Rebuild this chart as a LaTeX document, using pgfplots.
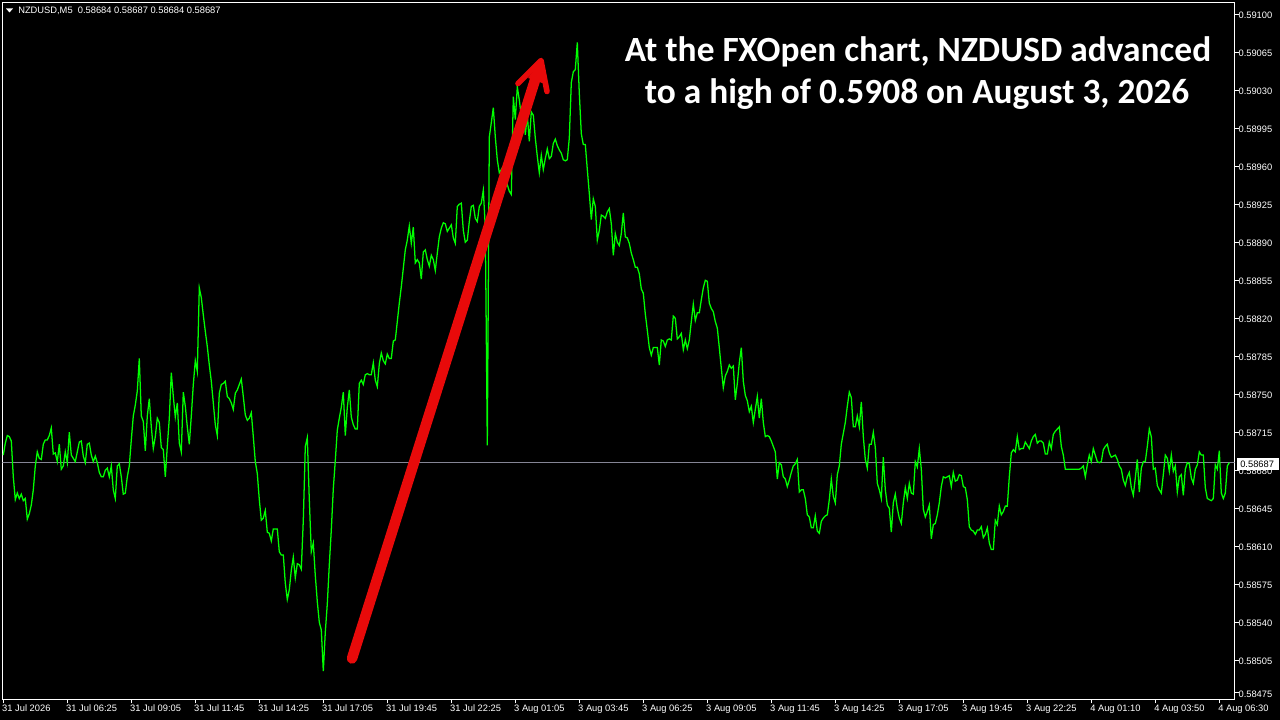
\documentclass[border=0pt]{standalone}
\usepackage{pgfplots}
\pgfplotsset{compat=1.18}
\usepackage{fontspec}
\setmainfont{Liberation Sans}
\newfontfamily\carlito{Carlito}
\definecolor{arrowred}{HTML}{E80A0A}
\definecolor{bidgray}{HTML}{858595}
\begin{document}
\begin{tikzpicture}[x=0.75pt,y=0.75pt]
\path[use as bounding box] (0,0) rectangle (1280,720);
\fill[black] (0,0) rectangle (1280,720);
\begin{axis}[
  at={(1.725pt,15.525pt)}, anchor=south west,
  scale only axis, width=924.3pt, height=522.75pt,
  xmin=-0.5, xmax=615.7, ymin=0.584691, ymax=0.59111,
  axis line style={white, line width=0.9pt},
  clip=true,
  tick align=outside, xtick pos=bottom, ytick pos=right,
  major tick style={white, line width=0.75pt},
  major tick length=3pt,
  xtick={0,32,64,96,128,160,192,224,256,288,320,352,384,416,448,480,512,544,576,608},
  xticklabels={31 Jul 2026,31 Jul 06:25,31 Jul 09:05,31 Jul 11:45,31 Jul 14:25,31 Jul 17:05,31 Jul 19:45,31 Jul 22:25,3 Aug 01:05,3 Aug 03:45,3 Aug 06:25,3 Aug 09:05,3 Aug 11:45,3 Aug 14:25,3 Aug 17:05,3 Aug 19:45,3 Aug 22:25,4 Aug 01:10,4 Aug 03:50,4 Aug 06:30},
  ytick={0.59100,0.59065,0.59030,0.58995,0.58960,0.58925,0.58890,0.58855,0.58820,0.58785,0.58750,0.58715,0.58680,0.58645,0.58610,0.58575,0.58540,0.58505,0.58475},
  yticklabels={0.59100,0.59065,0.59030,0.58995,0.58960,0.58925,0.58890,0.58855,0.58820,0.58785,0.58750,0.58715,0.58680,0.58645,0.58610,0.58575,0.58540,0.58505,0.58475},
  xticklabel style={anchor=north west, xshift=-1pt, yshift=0.4pt, text=white, font=\fontsize{7pt}{8pt}\selectfont, inner xsep=0pt, inner ysep=1.5pt},
  yticklabel style={anchor=west, xshift=-0.3pt, yshift=-0.7pt, text=white, font=\fontsize{7pt}{8pt}\selectfont, inner xsep=0pt},
  scaled y ticks=false,
]
\addplot[bidgray, line width=0.85pt] coordinates {(-0.5,0.58687)(615.7,0.58687)};
\addplot[color={rgb,255:red,0;green,255;blue,0}, line width=0.95pt, line join=miter] coordinates {
(0,0.58694)(1,0.58705)(2,0.58712)(3,0.58711)(4,0.58707)(5,0.58674)(6,0.58653)(7,0.58659)(8,0.58654)(9,0.58658)
(10,0.58652)(11,0.58654)(12,0.58635)(13,0.58640)(14,0.58648)(15,0.58662)(16,0.58684)(17,0.58697)(18,0.58691)(19,0.58690)
(20,0.58704)(21,0.58708)(22,0.58708)(23,0.58712)(24,0.58719)(25,0.58695)(26,0.58696)(27,0.58688)(28,0.58704)(29,0.58681)
(30,0.58684)(31,0.58697)(32,0.58687)(33,0.58715)(34,0.58694)(35,0.58691)(36,0.58688)(37,0.58697)(38,0.58706)(39,0.58707)
(40,0.58693)(41,0.58687)(42,0.58704)(43,0.58705)(44,0.58694)(45,0.58688)(46,0.58693)(47,0.58687)(48,0.58678)(49,0.58674)
(50,0.58674)(51,0.58680)(52,0.58682)(53,0.58674)(54,0.58684)(55,0.58662)(56,0.58654)(57,0.58684)(58,0.58686)(59,0.58674)
(60,0.58658)(61,0.58659)(62,0.58674)(63,0.58684)(64,0.58708)(65,0.58730)(66,0.58740)(67,0.58753)(68,0.58783)(69,0.58730)
(70,0.58725)(71,0.58698)(72,0.58730)(73,0.58746)(74,0.58720)(75,0.58700)(76,0.58711)(77,0.58728)(78,0.58724)(79,0.58701)
(80,0.58699)(81,0.58674)(82,0.58702)(83,0.58728)(84,0.58770)(85,0.58748)(86,0.58729)(87,0.58742)(88,0.58705)(89,0.58697)
(90,0.58752)(91,0.58739)(92,0.58720)(93,0.58704)(94,0.58730)(95,0.58759)(96,0.58781)(97,0.58771)(98,0.58848)(99,0.58839)
(100,0.58823)(101,0.58808)(102,0.58794)(103,0.58777)(104,0.58762)(105,0.58742)(106,0.58722)(107,0.58712)(108,0.58751)(109,0.58759)
(110,0.58760)(111,0.58762)(112,0.58748)(113,0.58746)(114,0.58742)(115,0.58736)(116,0.58751)(117,0.58754)(118,0.58759)(119,0.58764)
(120,0.58748)(121,0.58731)(122,0.58726)(123,0.58728)(124,0.58733)(125,0.58711)(126,0.58688)(127,0.58677)(128,0.58653)(129,0.58634)
(130,0.58636)(131,0.58643)(132,0.58623)(133,0.58622)(134,0.58615)(135,0.58626)(136,0.58626)(137,0.58626)(138,0.58605)(139,0.58602)
(140,0.58602)(141,0.58576)(142,0.58561)(143,0.58570)(144,0.58588)(145,0.58600)(146,0.58581)(147,0.58594)(148,0.58593)(149,0.58589)
(150,0.58634)(151,0.58702)(152,0.58710)(153,0.58653)(154,0.58605)(155,0.58613)(156,0.58583)(157,0.58559)(158,0.58540)(159,0.58533)
(160,0.58495)(161,0.58531)(162,0.58557)(163,0.58593)(164,0.58625)(165,0.58663)(166,0.58689)(167,0.58717)(168,0.58728)(169,0.58738)
(170,0.58752)(171,0.58712)(172,0.58738)(173,0.58754)(174,0.58729)(175,0.58722)(176,0.58718)(177,0.58718)(178,0.58760)(179,0.58763)
(180,0.58759)(181,0.58768)(182,0.58769)(183,0.58768)(184,0.58768)(185,0.58779)(186,0.58763)(187,0.58757)(188,0.58778)(189,0.58788)
(190,0.58781)(191,0.58778)(192,0.58787)(193,0.58783)(194,0.58783)(195,0.58799)(196,0.58800)(197,0.58817)(198,0.58834)(199,0.58849)
(200,0.58866)(201,0.58883)(202,0.58892)(203,0.58905)(204,0.58889)(205,0.58904)(206,0.58871)(207,0.58874)(208,0.58871)(209,0.58856)
(210,0.58881)(211,0.58883)(212,0.58874)(213,0.58868)(214,0.58878)(215,0.58874)(216,0.58864)(217,0.58880)(218,0.58895)(219,0.58903)
(220,0.58908)(221,0.58907)(222,0.58900)(223,0.58903)(224,0.58906)(225,0.58894)(226,0.58889)(227,0.58923)(228,0.58925)(229,0.58926)
(230,0.58901)(231,0.58890)(232,0.58892)(233,0.58909)(234,0.58923)(235,0.58924)(236,0.58912)(237,0.58909)(238,0.58923)(239,0.58926)
(240,0.58938)(241,0.58904)(242,0.58703)(243,0.58987)(244,0.59000)(245,0.59014)(246,0.58987)(247,0.58966)(248,0.58954)(249,0.58957)
(250,0.58960)(251,0.58954)(252,0.58943)(253,0.58937)(254,0.58934)(255,0.59024)(256,0.59003)(257,0.59033)(258,0.59021)(259,0.59006)
(260,0.59015)(261,0.58989)(262,0.59007)(263,0.58983)(264,0.59010)(265,0.59007)(266,0.58986)(267,0.58969)(268,0.58954)(269,0.58970)
(270,0.58957)(271,0.58967)(272,0.58976)(273,0.58967)(274,0.58969)(275,0.58981)(276,0.58985)(277,0.58979)(278,0.58975)(279,0.58972)
(280,0.58966)(281,0.58965)(282,0.58966)(283,0.58986)(284,0.59037)(285,0.59047)(286,0.59049)(287,0.59074)(288,0.59027)(289,0.58990)
(290,0.58980)(291,0.58980)(292,0.58957)(293,0.58935)(294,0.58911)(295,0.58930)(296,0.58923)(297,0.58892)(298,0.58901)(299,0.58915)
(300,0.58914)(301,0.58912)(302,0.58918)(303,0.58921)(304,0.58907)(305,0.58878)(306,0.58898)(307,0.58890)(308,0.58887)(309,0.58898)
(310,0.58917)(311,0.58895)(312,0.58894)(313,0.58889)(314,0.58880)(315,0.58874)(316,0.58867)(317,0.58867)(318,0.58861)(319,0.58847)
(320,0.58843)(321,0.58824)(322,0.58809)(323,0.58793)(324,0.58786)(325,0.58793)(326,0.58793)(327,0.58793)(328,0.58777)(329,0.58800)
(330,0.58799)(331,0.58794)(332,0.58800)(333,0.58801)(334,0.58800)(335,0.58822)(336,0.58820)(337,0.58801)(338,0.58803)(339,0.58806)
(340,0.58791)(341,0.58800)(342,0.58792)(343,0.58800)(344,0.58817)(345,0.58833)(346,0.58818)(347,0.58825)(348,0.58825)(349,0.58837)
(350,0.58848)(351,0.58855)(352,0.58854)(353,0.58834)(354,0.58829)(355,0.58826)(356,0.58817)(357,0.58811)(358,0.58793)(359,0.58774)
(360,0.58756)(361,0.58767)(362,0.58771)(363,0.58777)(364,0.58774)(365,0.58776)(366,0.58745)(367,0.58760)(368,0.58779)(369,0.58793)
(370,0.58762)(371,0.58749)(372,0.58744)(373,0.58734)(374,0.58739)(375,0.58724)(376,0.58736)(377,0.58748)(378,0.58728)(379,0.58746)
(380,0.58724)(381,0.58711)(382,0.58712)(383,0.58711)(384,0.58707)(385,0.58702)(386,0.58697)(387,0.58672)(388,0.58687)(389,0.58685)
(390,0.58674)(391,0.58672)(392,0.58665)(393,0.58671)(394,0.58678)(395,0.58684)(396,0.58686)(397,0.58690)(398,0.58660)(399,0.58662)
(400,0.58662)(401,0.58654)(402,0.58639)(403,0.58637)(404,0.58627)(405,0.58627)(406,0.58638)(407,0.58624)(408,0.58622)(409,0.58633)
(410,0.58636)(411,0.58638)(412,0.58639)(413,0.58653)(414,0.58672)(415,0.58656)(416,0.58650)(417,0.58676)(418,0.58684)(419,0.58704)
(420,0.58714)(421,0.58724)(422,0.58739)(423,0.58752)(424,0.58747)(425,0.58720)(426,0.58720)(427,0.58730)(428,0.58720)(429,0.58743)
(430,0.58711)(431,0.58690)(432,0.58682)(433,0.58704)(434,0.58704)(435,0.58715)(436,0.58701)(437,0.58668)(438,0.58662)(439,0.58654)
(440,0.58692)(441,0.58662)(442,0.58648)(443,0.58645)(444,0.58623)(445,0.58650)(446,0.58658)(447,0.58645)(448,0.58636)(449,0.58631)
(450,0.58650)(451,0.58664)(452,0.58654)(453,0.58668)(454,0.58659)(455,0.58658)(456,0.58688)(457,0.58683)(458,0.58700)(459,0.58681)
(460,0.58644)(461,0.58637)(462,0.58642)(463,0.58648)(464,0.58617)(465,0.58630)(466,0.58631)(467,0.58639)(468,0.58650)(469,0.58665)
(470,0.58674)(471,0.58673)(472,0.58674)(473,0.58675)(474,0.58665)(475,0.58678)(476,0.58670)(477,0.58671)(478,0.58676)(479,0.58675)
(480,0.58665)(481,0.58664)(482,0.58653)(483,0.58628)(484,0.58625)(485,0.58624)(486,0.58621)(487,0.58625)(488,0.58625)(489,0.58628)
(490,0.58618)(491,0.58621)(492,0.58627)(493,0.58613)(494,0.58607)(495,0.58607)(496,0.58634)(497,0.58630)(498,0.58647)(499,0.58639)
(500,0.58642)(501,0.58647)(502,0.58647)(503,0.58674)(504,0.58696)(505,0.58699)(506,0.58697)(507,0.58711)(508,0.58699)(509,0.58700)
(510,0.58700)(511,0.58706)(512,0.58703)(513,0.58700)(514,0.58707)(515,0.58711)(516,0.58713)(517,0.58705)(518,0.58707)(519,0.58707)
(520,0.58705)(521,0.58695)(522,0.58695)(523,0.58706)(524,0.58700)(525,0.58713)(526,0.58716)(527,0.58718)(528,0.58720)(529,0.58702)
(530,0.58694)(531,0.58681)(532,0.58681)(533,0.58681)(534,0.58681)(535,0.58681)(536,0.58681)(537,0.58681)(538,0.58681)(539,0.58682)
(540,0.58684)(541,0.58674)(542,0.58685)(543,0.58694)(544,0.58688)(545,0.58700)(546,0.58694)(547,0.58688)(548,0.58687)(549,0.58688)
(550,0.58699)(551,0.58702)(552,0.58704)(553,0.58696)(554,0.58692)(555,0.58693)(556,0.58694)(557,0.58690)(558,0.58684)(559,0.58681)
(560,0.58671)(561,0.58666)(562,0.58674)(563,0.58678)(564,0.58664)(565,0.58657)(566,0.58673)(567,0.58690)(568,0.58660)(569,0.58682)
(570,0.58688)(571,0.58688)(572,0.58702)(573,0.58718)(574,0.58711)(575,0.58681)(576,0.58682)(577,0.58666)(578,0.58662)(579,0.58659)
(580,0.58676)(581,0.58694)(582,0.58691)(583,0.58679)(584,0.58694)(585,0.58679)(586,0.58684)(587,0.58660)(588,0.58674)(589,0.58676)
(590,0.58657)(591,0.58681)(592,0.58687)(593,0.58686)(594,0.58673)(595,0.58668)(596,0.58681)(597,0.58685)(598,0.58697)(599,0.58694)
(600,0.58694)(601,0.58664)(602,0.58654)(603,0.58653)(604,0.58652)(605,0.58654)(606,0.58685)(607,0.58681)(608,0.58698)(609,0.58659)
(610,0.58654)(611,0.58659)(612,0.58684)(613,0.58687)
};
\end{axis}
% red arrow
\draw[arrowred, line width=7.9pt, line cap=round] (352,61.5) -- (535,640);
\draw[arrowred, line width=4.2pt, line cap=round, line join=round] (518,636.5) -- (541,659.5) -- (547,628.5);
\fill[arrowred] (528,642) -- (541,659.5) -- (545,636) -- cycle;
% price tag
\fill[white] (1237,250) rectangle (1279,262);
\node[anchor=west, inner sep=0pt, text=black, font=\fontsize{7pt}{8pt}\selectfont] at (1240,256) {0.58687};
% header
\fill[white] (6,711.5) -- (13,711.5) -- (9.5,707.5) -- cycle;
\node[anchor=west, inner sep=0pt, text=white, font=\fontsize{7pt}{8pt}\selectfont] at (18,709.5) {NZDUSD,M5\ \ 0.58684 0.58687 0.58684 0.58687};
% title
\node[text=white, font=\carlito\bfseries\fontsize{26.55pt}{30pt}\selectfont, inner sep=0pt] at (918,668.5) {At the FXOpen chart, NZDUSD advanced};
\node[text=white, font=\carlito\bfseries\fontsize{26.55pt}{30pt}\selectfont, inner sep=0pt] at (917,625.5) {to a high of 0.5908 on August 3, 2026};
\end{tikzpicture}
\end{document}
